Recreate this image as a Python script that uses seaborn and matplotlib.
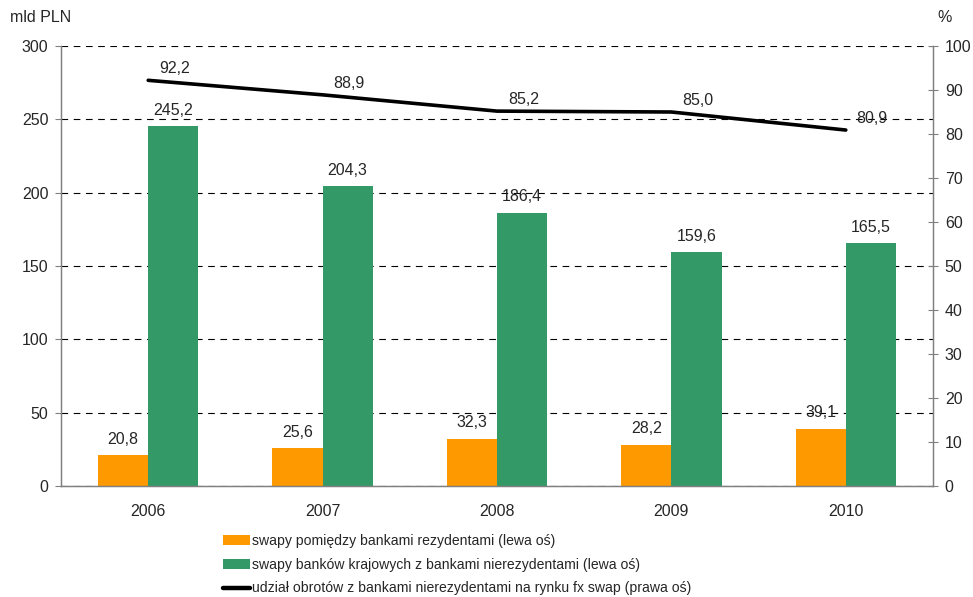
import matplotlib
matplotlib.use("Agg")
import matplotlib.pyplot as plt
from matplotlib.patches import Patch
from matplotlib.lines import Line2D
from matplotlib.ticker import MultipleLocator
import seaborn as sns
import pandas as pd

years = ["2006", "2007", "2008", "2009", "2010"]
resident_swaps = [20.8, 25.6, 32.3, 28.2, 39.1]
nonresident_swaps = [245.2, 204.3, 186.4, 159.6, 165.5]
nonresident_share = [92.2, 88.9, 85.2, 85.0, 80.9]

label_resident = "swapy pomiędzy bankami rezydentami (lewa oś)"
label_nonresident = "swapy banków krajowych z bankami nierezydentami (lewa oś)"
label_share = "udział obrotów z bankami nierezydentami na rynku fx swap (prawa oś)"

c_orange = "#FF9900"
c_green = "#339966"
FS = 11.5
FS_LEG = 10.1

sns.set_style("white")
plt.rcParams["font.family"] = ["Liberation Sans", "DejaVu Sans"]
plt.rcParams["font.size"] = FS

df = pd.DataFrame({
    "rok": years * 2,
    "wartosc": resident_swaps + nonresident_swaps,
    "seria": [label_resident] * len(years) + [label_nonresident] * len(years),
})

fig = plt.figure(figsize=(9.73, 5.97), dpi=100)
ax = fig.add_axes([61 / 973, 1 - 486 / 597, 872 / 973, 440 / 597])

sns.barplot(data=df, x="rok", y="wartosc", hue="seria",
            palette=[c_orange, c_green], width=0.575, dodge=True,
            saturation=1, legend=False, ax=ax, edgecolor="none")

ax.set_xlim(-0.5, len(years) - 0.5)
ax.set_ylim(0, 300)
ax.yaxis.set_major_locator(MultipleLocator(50))
ax.set_xlabel("")
ax.set_ylabel("")
ax.grid(axis="y", color="black", linestyle=(0, (6, 5)), linewidth=0.8)
ax.set_axisbelow(True)

for container in ax.containers:
    ax.bar_label(container, labels=[f"{v:.1f}".replace(".", ",") for v in container.datavalues],
                 padding=6, fontsize=FS)

ax.set_xticks(range(len(years)))
ax.set_xticklabels(years)
ax.set_xticks([i + 0.5 for i in range(len(years) - 1)], minor=True)
ax.tick_params(axis="x", which="major", length=0, pad=13, labelsize=FS)
ax.tick_params(axis="x", which="minor", direction="inout", length=7, color="#808080")
ax.tick_params(axis="y", direction="out", length=4, color="#808080", labelsize=FS, pad=5)

ax.spines["top"].set_visible(False)
for side in ["left", "bottom", "right"]:
    ax.spines[side].set_color("#808080")
    ax.spines[side].set_linewidth(1.0)

ax2 = ax.twinx()
sns.lineplot(x=list(range(len(years))), y=nonresident_share, color="black",
             linewidth=2.6, ax=ax2, legend=False)
ax2.set_ylim(0, 100)
ax2.yaxis.set_major_locator(MultipleLocator(10))
ax2.tick_params(axis="y", direction="inout", length=7, color="#808080", labelsize=FS, pad=5)
ax2.set_ylabel("")
ax2.spines["top"].set_visible(False)
for side in ["left", "bottom", "right"]:
    ax2.spines[side].set_color("#808080")
for i, v in enumerate(nonresident_share):
    ax2.annotate(f"{v:.1f}".replace(".", ","), (i, v), xytext=(19, 3),
                 textcoords="offset points", ha="center", va="bottom", fontsize=FS)
ax2.set_xlim(-0.5, len(years) - 0.5)

fig.text(10 / 973, 1 - 18 / 597, "mld PLN", fontsize=FS, va="center", ha="left")
fig.text(937 / 973, 1 - 18 / 597, "%", fontsize=FS, va="center", ha="left")

handles = [
    Patch(facecolor=c_orange, edgecolor="none"),
    Patch(facecolor=c_green, edgecolor="none"),
    Line2D([0], [0], color="black", linewidth=3.2),
]
fig.legend(handles, [label_resident, label_nonresident, label_share],
           loc="upper left", bbox_to_anchor=(213 / 973, 1 - 524 / 597),
           frameon=False, fontsize=FS_LEG, handlelength=1.95, handleheight=0.7,
           handletextpad=0.1, labelspacing=0.7, borderpad=0.2)

fig.savefig("out.png", dpi=100)
